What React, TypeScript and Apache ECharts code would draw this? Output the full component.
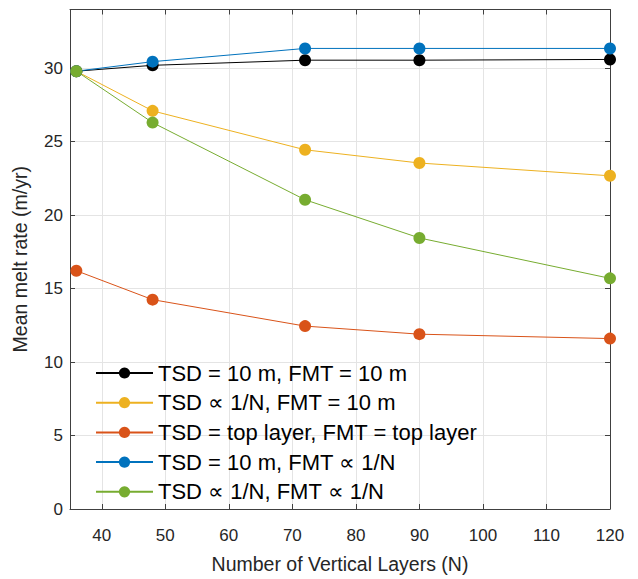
import React, { useEffect, useRef } from "react";
import * as echarts from "echarts";

const layers = [36, 48, 72, 90, 120];
const seriesNames = [
  "TSD = 10 m, FMT = 10 m",
  "TSD ∝ 1/N, FMT = 10 m",
  "TSD = top layer, FMT = top layer",
  "TSD = 10 m, FMT ∝ 1/N",
  "TSD ∝ 1/N, FMT ∝ 1/N",
];
const tsd10fmt10 = [29.8, 30.2, 30.55, 30.55, 30.6];
const tsdNfmt10 = [29.8, 27.1, 24.45, 23.55, 22.68];
const tsdTopFmtTop = [16.22, 14.25, 12.45, 11.9, 11.6];
const tsd10fmtN = [29.8, 30.45, 31.35, 31.35, 31.35];
const tsdNfmtN = [29.8, 26.3, 21.05, 18.45, 15.7];
const colors = ["#000000", "#EDB120", "#D95319", "#0072BD", "#77AC30"];
const xTicks = [40, 50, 60, 70, 80, 90, 100, 110, 120];
const yTicks = [0, 5, 10, 15, 20, 25, 30];

const FONT = '"Liberation Sans", Arial, Helvetica, sans-serif';

export default function App() {
  const ref = useRef<HTMLDivElement>(null);
  useEffect(() => {
    if (!ref.current) return;
    const chart = echarts.init(ref.current, null, { renderer: "svg" });
    const all = [tsd10fmt10, tsdNfmt10, tsdTopFmtTop, tsd10fmtN, tsdNfmtN];
    const axisColor = "#404040";
    const gridColor = "#e4e4e4";
    const baseX = {
      type: "value" as const,
      min: 35,
      max: 120,
      axisLine: { show: true, onZero: false, lineStyle: { color: axisColor, width: 1 } },
      axisTick: { show: true, inside: true, length: 5, customValues: xTicks, lineStyle: { color: axisColor } },
    };
    const baseY = {
      type: "value" as const,
      min: 0,
      max: 34,
      interval: 5,
      axisLine: { show: true, onZero: false, lineStyle: { color: axisColor, width: 1 } },
      axisTick: { show: true, inside: true, length: 5, customValues: yTicks, lineStyle: { color: axisColor } },
    };
    chart.setOption({
      animation: false,
      backgroundColor: "#ffffff",
      textStyle: { fontFamily: FONT },
      grid: { left: 70, right: 28, top: 9.5, bottom: 58, containLabel: false },
      xAxis: [
        {
          ...baseX,
          position: "bottom",
          name: "Number of Vertical Layers (N)",
          nameLocation: "middle",
          nameGap: 45,
          nameTextStyle: { fontSize: 19.5, color: "#262626", fontFamily: FONT },
          axisLabel: { customValues: xTicks, fontSize: 17, color: "#262626", margin: 18, fontFamily: FONT },
          splitLine: { show: true, lineStyle: { color: gridColor, width: 1 } },
        },
        {
          ...baseX,
          position: "top",
          axisLabel: { show: false },
          splitLine: { show: false },
        },
      ],
      yAxis: [
        {
          ...baseY,
          position: "left",
          name: "Mean melt rate (m/yr)",
          nameLocation: "middle",
          nameGap: 40,
          nameTextStyle: { fontSize: 19.5, color: "#262626", fontFamily: FONT },
          axisLabel: { customValues: yTicks, fontSize: 17, color: "#262626", margin: 7, fontFamily: FONT },
          splitLine: { show: true, lineStyle: { color: gridColor, width: 1 } },
        },
        {
          ...baseY,
          position: "right",
          axisLabel: { show: false },
          splitLine: { show: false },
        },
      ],
      legend: {
        orient: "vertical",
        left: 90,
        top: 356,
        itemWidth: 57,
        itemHeight: 14,
        itemGap: 5.7,
        backgroundColor: "transparent",
        textStyle: { fontSize: 22, color: "#000000", lineHeight: 24, fontFamily: FONT },
        data: seriesNames,
      },
      series: seriesNames.map((name, i) => ({
        name,
        type: "line",
        xAxisIndex: 0,
        yAxisIndex: 0,
        data: layers.map((x, j) => [x, all[i][j]]),
        symbol: "circle",
        symbolSize: 12,
        showSymbol: true,
        color: colors[i],
        lineStyle: { color: colors[i], width: 1 },
        itemStyle: { color: colors[i] },
      })),
    });
    return () => chart.dispose();
  }, []);
  return (
    <div
      ref={ref}
      style={{ position: "fixed", left: 0, top: 0, width: 638, height: 579 }}
    />
  );
}
